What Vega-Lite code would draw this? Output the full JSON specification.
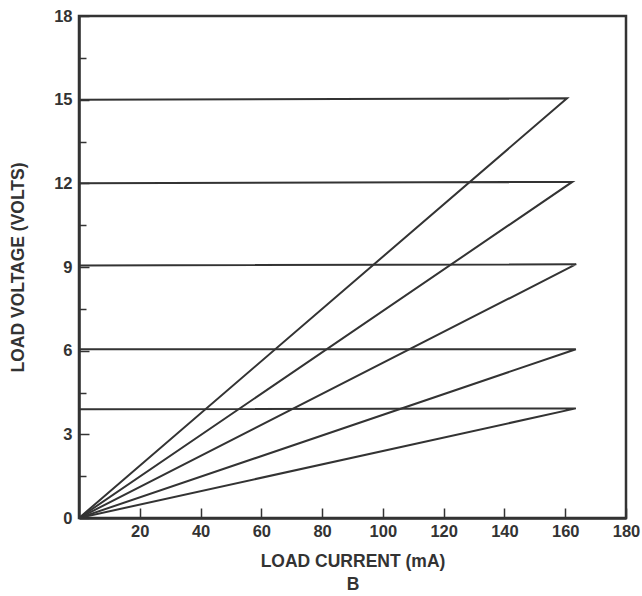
{
  "$schema": "https://vega.github.io/schema/vega-lite/v6.json",
  "width": 547,
  "height": 502,
  "autosize": "none",
  "padding": {"left": 79, "top": 16, "right": 16, "bottom": 78},
  "background": "white",
  "config": {
    "view": {"stroke": "#333", "strokeWidth": 2.5},
    "font": "Liberation Sans",
    "axis": {
      "titleFont": "Liberation Sans",
      "titleFontWeight": "bold",
      "titleFontSize": 17.5,
      "titleColor": "#333",
      "domainColor": "#333",
      "domainWidth": 2.5,
      "tickColor": "#333",
      "tickWidth": 1.5,
      "grid": false
    }
  },
  "data": {
    "values": [
      {"level": "15", "ord": 1, "current": 0, "voltage": 15},
      {"level": "15", "ord": 2, "current": 160.6, "voltage": 15.05},
      {"level": "15", "ord": 3, "current": 0, "voltage": 0},
      {"level": "12", "ord": 1, "current": 0, "voltage": 12},
      {"level": "12", "ord": 2, "current": 162.3, "voltage": 12.05},
      {"level": "12", "ord": 3, "current": 0, "voltage": 0},
      {"level": "9", "ord": 1, "current": 0, "voltage": 9.05},
      {"level": "9", "ord": 2, "current": 163.6, "voltage": 9.1},
      {"level": "9", "ord": 3, "current": 0, "voltage": 0},
      {"level": "6", "ord": 1, "current": 0, "voltage": 6.05},
      {"level": "6", "ord": 2, "current": 163.5, "voltage": 6.05},
      {"level": "6", "ord": 3, "current": 0, "voltage": 0},
      {"level": "3.9", "ord": 1, "current": 0, "voltage": 3.9},
      {"level": "3.9", "ord": 2, "current": 163.5, "voltage": 3.93},
      {"level": "3.9", "ord": 3, "current": 0, "voltage": 0}
    ]
  },
  "mark": {"type": "line", "color": "#333", "strokeWidth": 2, "clip": true},
  "encoding": {
    "x": {
      "field": "current",
      "type": "quantitative",
      "scale": {"domain": [0, 180], "nice": false},
      "axis": {
        "title": ["LOAD CURRENT (mA)", "B"],
        "titleLineHeight": 23,
        "titlePadding": 13,
        "values": [20, 40, 60, 80, 100, 120, 140, 160, 180],
        "tickSize": -10,
        "labelPadding": 15,
        "labelFlush": false,
        "labelFont": "Liberation Sans",
        "labelFontWeight": "bold",
        "labelFontSize": 16.5,
        "labelColor": "#333"
      }
    },
    "y": {
      "field": "voltage",
      "type": "quantitative",
      "scale": {"domain": [0, 18], "nice": false},
      "axis": {
        "title": "LOAD VOLTAGE (VOLTS)",
        "titlePadding": 26,
        "values": [0, 1.5, 3, 4.5, 6, 7.5, 9, 10.5, 12, 13.5, 15, 16.5, 18],
        "labelExpr": "datum.value % 3 === 0 ? datum.label : ''",
        "tickSize": {"condition": {"test": "datum.value % 3 === 0", "value": -10}, "value": -7},
        "labelPadding": 17,
        "labelFlush": false,
        "labelFont": "Liberation Sans",
        "labelFontWeight": "bold",
        "labelFontSize": 16.5,
        "labelColor": "#333"
      }
    },
    "detail": {"field": "level"},
    "order": {"field": "ord"}
  }
}
